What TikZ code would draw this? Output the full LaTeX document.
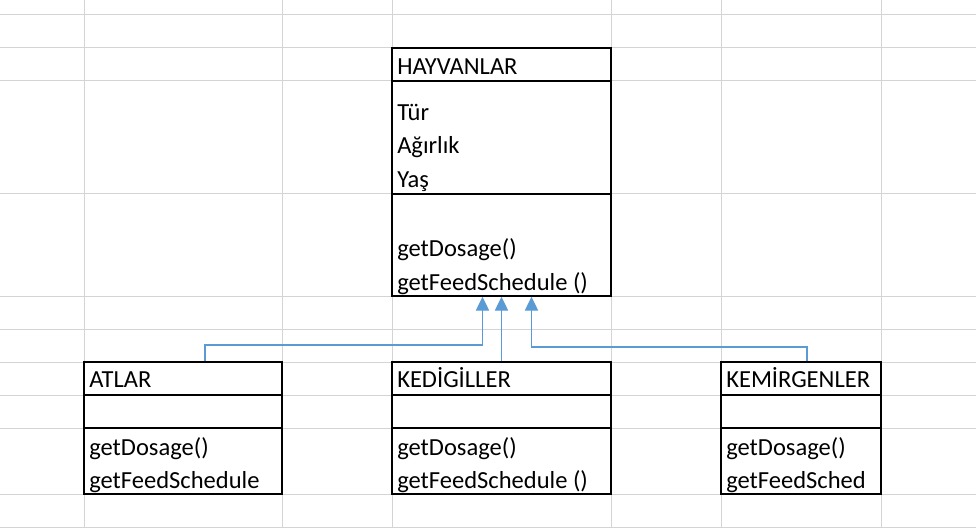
\documentclass[tikz,border=0pt]{standalone}
\usepackage{fontspec}
\setmainfont{Carlito}
\usetikzlibrary{arrows.meta,calc,fit}
\definecolor{gridc}{HTML}{D4D4D4}
\definecolor{connc}{HTML}{5B9BD5}
\begin{document}
\begin{tikzpicture}[x=0.75pt,y=-0.75pt,
  gridline/.style={draw=gridc,line width=0.75pt},
  umlbox/.style={draw=black,fill=white,line width=1.1pt,inner sep=0pt},
  divider/.style={draw=black,line width=1.1pt},
  txt/.style={anchor=base west,inner sep=0pt,font=\fontsize{18.4}{22}\selectfont},
  connector/.style={draw=connc,line width=0.9pt,-{Triangle[length=10.5pt,width=10pt]}}]
\useasboundingbox (0,0) rectangle (976,528);
% spreadsheet grid
\foreach \gx in {84,282,392,611,721,881} \draw[gridline] (\gx,0) -- (\gx,528);
\foreach \gy in {15,48,81,194,296,329,362,395,428,494,527} \draw[gridline] (0,\gy) -- (976,\gy);
% boxes
\node[umlbox,fit={(392,48) (611,296)}] (hay) {};
\node[umlbox,fit={(84,362) (282,494)}] (atlar) {};
\node[umlbox,fit={(392,362) (611,494)}] (kedi) {};
\node[umlbox,fit={(721,362) (881,494)}] (kemir) {};
% dividers
\draw[divider] (392,81) -- (611,81);
\draw[divider] (392,194) -- (611,194);
\draw[divider] (84,395) -- (282,395);
\draw[divider] (84,428) -- (282,428);
\draw[divider] (392,395) -- (611,395);
\draw[divider] (392,428) -- (611,428);
\draw[divider] (721,395) -- (881,395);
\draw[divider] (721,428) -- (881,428);
% texts
\node[txt] (h0) at (397,75) {HAYVANLAR};
\node[txt] (h1) at (397,121) {Tür};
\node[txt] (h2) at (397,154) {Ağırlık};
\node[txt] (h3) at (397,187) {Yaş};
\node[txt] (h4) at (397,257) {getDosage()};
\node[txt] (h5) at (397,290) {getFeedSchedule ()};
\node[txt] (a0) at (89,387) {ATLAR};
\node[txt] (a1) at (89,455) {getDosage()};
\node[txt] (a2) at (89,488) {getFeedSchedule};
\node[txt] (k0) at (397,387) {KEDİGİLLER};
\node[txt] (k1) at (397,455) {getDosage()};
\node[txt] (k2) at (397,488) {getFeedSchedule ()};
\node[txt] (m0) at (726,387) {KEMİRGENLER};
\node[txt] (m1) at (726,455) {getDosage()};
\node[txt] (m2) at (726,488) {getFeedSched};
% connectors
\coordinate (bendA) at (205,345);
\coordinate (bendM) at (807,347);
\draw[connector] (atlar.north -| bendA) -- (bendA) -| ($(hay.south)+(-19,0)$);
\draw[connector] (kedi.north) -- (hay.south);
\draw[connector] (kemir.north -| bendM) -- (bendM) -| ($(hay.south)+(30,0)$);
\end{tikzpicture}
\end{document}
